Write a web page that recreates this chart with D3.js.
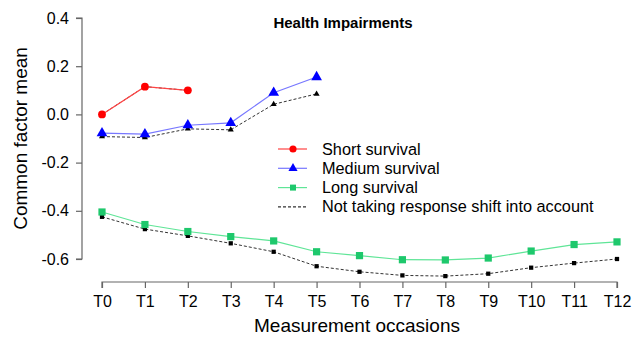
<!DOCTYPE html>
<html><head><meta charset="utf-8">
<script src="https://cdn.jsdelivr.net/npm/d3@7"></script>
<style>body{margin:0;background:#fff}svg{display:block}text{font-family:"Liberation Sans",Arial,sans-serif}</style>
</head><body><svg id="c" width="632" height="338"></svg>
<script>
const occasions = ["T0","T1","T2","T3","T4","T5","T6","T7","T8","T9","T10","T11","T12"];
const yTicks = [0.4, 0.2, 0.0, -0.2, -0.4, -0.6];
const shortSurv = [0.0, 0.115, 0.10];
const shortNoRS = [0.0, 0.115, 0.10];
const mediumSurv = [-0.078, -0.082, -0.045, -0.035, 0.09, 0.155];
const mediumNoRS = [-0.092, -0.096, -0.060, -0.064, 0.042, 0.085];
const longSurv = [-0.405, -0.457, -0.486, -0.507, -0.525, -0.570, -0.586, -0.603, -0.604, -0.596, -0.567, -0.540, -0.529];
const longNoRS = [-0.425, -0.476, -0.504, -0.535, -0.570, -0.630, -0.653, -0.668, -0.671, -0.661, -0.636, -0.617, -0.600];
const legendLabels = ["Short survival","Medium survival","Long survival","Not taking response shift into account"];

const svg = d3.select("#c");
const x = d3.scalePoint().domain(occasions).range([102, 617]);
const y = d3.scaleLinear().domain([-0.6, 0.4]).range([259, 18]);
const axisCol = "#666";

// axes
const gx = svg.append("g").attr("transform","translate(0,282)")
  .call(d3.axisBottom(x).tickSize(6).tickPadding(8));
const gy = svg.append("g").attr("transform","translate(82,0)")
  .call(d3.axisLeft(y).tickValues(yTicks).tickFormat(d3.format(".1f")).tickSize(6).tickPadding(7));
[gx, gy].forEach(g => {
  g.select(".domain").attr("stroke", axisCol).attr("stroke-width",1.2);
  g.selectAll(".tick line").attr("stroke", axisCol).attr("stroke-width",1.2);
  g.selectAll(".tick text").attr("fill","#000").style("font-size","16px").style("font-family","Liberation Sans, Arial, sans-serif");
});
gy.select(".domain").attr("d", `M-6,${y(0.4)}H0V${y(-0.6)}H-6`);
gx.select(".domain").attr("d", `M${x("T0")},6V0H${x("T12")}V6`);
gy.selectAll(".tick text").text(d => d === 0 ? "0.0" : d3.format(".1f")(d).replace("−","-"));

// titles
svg.append("text").attr("x",343).attr("y",28).attr("text-anchor","middle")
  .style("font-size","15px").style("font-weight","bold").text("Health Impairments");
svg.append("text").attr("x",357).attr("y",332).attr("text-anchor","middle")
  .style("font-size","19px").text("Measurement occasions");
svg.append("text").attr("transform",`translate(27,${(y(0.4)+y(-0.6))/2}) rotate(-90)`).attr("text-anchor","middle")
  .style("font-size","19px").text("Common factor mean");

const line = d3.line().x((d,i)=>x(occasions[i])).y(d=>y(d));

function drawDashed(vals, shape, size){
  svg.append("path").datum(vals).attr("d", line).attr("fill","none")
    .attr("stroke","#333").attr("stroke-width",1).attr("stroke-dasharray","3,2");
  svg.selectAll(null).data(vals).enter().append("path")
    .attr("transform",(d,i)=>`translate(${x(occasions[i])},${y(d)})`)
    .attr("d", d3.symbol().type(shape).size(size)).attr("fill","#000");
}
function drawSeries(vals, lineCol, markCol, shape, size){
  svg.append("path").datum(vals).attr("d", line).attr("fill","none")
    .attr("stroke", lineCol).attr("stroke-width",1.2);
  svg.selectAll(null).data(vals).enter().append("path")
    .attr("transform",(d,i)=>`translate(${x(occasions[i])},${y(d)})`)
    .attr("d", d3.symbol().type(shape).size(size)).attr("fill", markCol);
}
drawDashed(shortNoRS, d3.symbolCircle, 14);
drawDashed(mediumNoRS, d3.symbolTriangle, 16);
drawDashed(longNoRS, d3.symbolSquare, 18);
drawSeries(shortSurv, "#ff4444", "#ff0000", d3.symbolCircle, 48);
drawSeries(mediumSurv, "#7777ff", "#0000ff", d3.symbolTriangle, 50);
drawSeries(longSurv, "#5fe597", "#1ec86c", d3.symbolSquare, 52);

// legend
const lg = [
  {c:"#ff4444", m:"#ff0000", s:d3.symbolCircle, z:40},
  {c:"#7777ff", m:"#0000ff", s:d3.symbolTriangle, z:36},
  {c:"#5fe597", m:"#1ec86c", s:d3.symbolSquare, z:36},
  {c:"#333", m:null, s:null, z:0, dash:true}
];
lg.forEach((d,i)=>{
  const yy = 149 + i*19.3;
  svg.append("line").attr("x1",278).attr("x2",307).attr("y1",yy).attr("y2",yy)
    .attr("stroke",d.c).attr("stroke-width",1.2).attr("stroke-dasharray", d.dash ? "3,2" : null);
  if (d.s) svg.append("path").attr("transform",`translate(293,${yy})`)
    .attr("d", d3.symbol().type(d.s).size(d.z)).attr("fill", d.m);
  svg.append("text").attr("x",322).attr("y",yy+5.5).style("font-size","16.3px").text(legendLabels[i]);
});
</script></body></html>
